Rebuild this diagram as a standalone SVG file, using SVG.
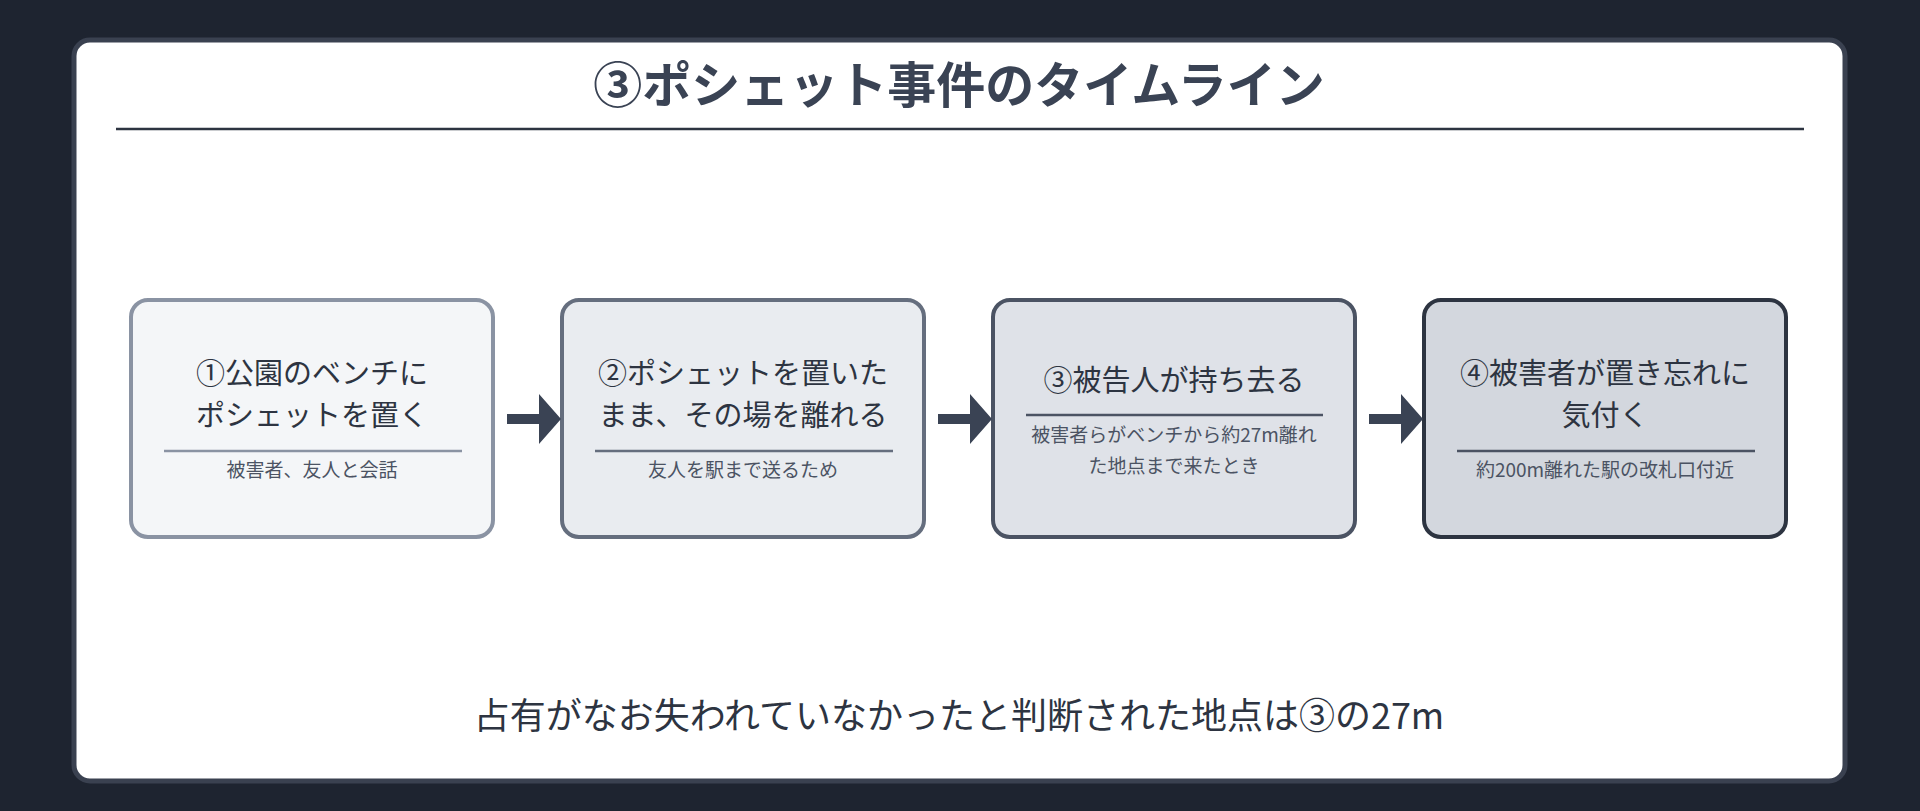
<svg xmlns="http://www.w3.org/2000/svg" width="1920" height="811" viewBox="0 0 1920 811">
<defs>
<style>
text{font-family:"Noto Sans CJK JP","Noto Sans",sans-serif;text-anchor:middle;fill:#2d3441}
.t{font-size:29px}
.s{font-size:19px;fill:#4b5363}
.div{stroke-width:2.5}
.arr{fill:#3a4354}
</style>
</defs>
<rect width="1920" height="811" fill="#1e2430"/>
<rect x="74" y="40" width="1771" height="741" rx="16" fill="#ffffff" stroke="#3a4150" stroke-width="5"/>
<text x="959" y="103" font-size="49" font-weight="bold" style="fill:#3a4354">③ポシェット事件のタイムライン</text>
<line x1="116" y1="129" x2="1804" y2="129" stroke="#2d3441" stroke-width="2.5"/>
<g id="node1">
<rect x="131" y="300" width="362" height="237" rx="17" fill="#f4f6f8" stroke="#8a93a3" stroke-width="4"/>
<text class="t" x="312" y="384">①公園のベンチに</text>
<text class="t" x="312" y="426">ポシェットを置く</text>
<line class="div" x1="164" y1="451" x2="462" y2="451" stroke="#8a93a3"/>
<text class="s" x="312" y="477">被害者、友人と会話</text>
</g>
<g id="node2">
<rect x="562" y="300" width="362" height="237" rx="17" fill="#e9ecf0" stroke="#656e7e" stroke-width="4"/>
<text class="t" x="743" y="384">②ポシェットを置いた</text>
<text class="t" x="743" y="426">まま、その場を離れる</text>
<line class="div" x1="595" y1="451" x2="893" y2="451" stroke="#656e7e"/>
<text class="s" x="743" y="477">友人を駅まで送るため</text>
</g>
<g id="node3">
<rect x="993" y="300" width="362" height="237" rx="17" fill="#dfe2e8" stroke="#4b5363" stroke-width="4"/>
<text class="t" x="1174" y="391">③被告人が持ち去る</text>
<line class="div" x1="1026" y1="415" x2="1323" y2="415" stroke="#4b5363"/>
<text class="s" x="1174" y="442">被害者らがベンチから約27m離れ</text>
<text class="s" x="1174" y="473">た地点まで来たとき</text>
</g>
<g id="node4">
<rect x="1424" y="300" width="362" height="237" rx="17" fill="#d3d7de" stroke="#2d3441" stroke-width="4"/>
<text class="t" x="1605" y="384">④被害者が置き忘れに</text>
<text class="t" x="1605" y="426">気付く</text>
<line class="div" x1="1457" y1="451" x2="1755" y2="451" stroke="#4b5363"/>
<text class="s" x="1605" y="477">約200m離れた駅の改札口付近</text>
</g>
<g id="connectors">
<path class="arr" d="M507 414h32v-20l22 25l-22 25v-20h-32z"/>
<path class="arr" d="M938 414h32v-20l22 25l-22 25v-20h-32z"/>
<path class="arr" d="M1369 414h32v-20l22 25l-22 25v-20h-32z"/>
</g>
<text x="959" y="729" font-size="36">占有がなお失われていなかったと判断された地点は③の27m</text>
</svg>
